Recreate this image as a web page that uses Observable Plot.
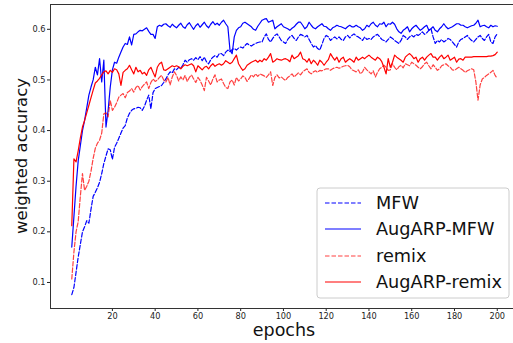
<!DOCTYPE html>
<html><head><meta charset="utf-8">
<script src="https://cdn.jsdelivr.net/npm/d3@7"></script>
<script src="https://cdn.jsdelivr.net/npm/@observablehq/plot@0.6"></script>
<style>body{margin:0;background:#fff;} #chart svg{display:block;overflow:visible}</style>
</head><body><div id="chart"></div>
<script>
const seriesNames = ["MFW", "AugARP-MFW", "remix", "AugARP-remix"];
const xTicks = [20, 40, 60, 80, 100, 120, 140, 160, 180, 200];
const yTicks = [0.1, 0.2, 0.3, 0.4, 0.5, 0.6];

const mfw = [
.076,.09,.12,.15,.175,.20,.21,.222,.217,.245,
.27,.278,.287,.298,.315,.335,.35,.364,.362,.343,
.367,.375,.385,.395,.405,.41,.425,.434,.44,.443,
.444,.446,.445,.44,.448,.46,.47,.443,.475,.483,
.485,.487,.489,.495,.502,.51,.516,.514,.522,.52,
.525,.523,.53,.539,.535,.54,.542,.539,.544,.54,
.546,.538,.545,.536,.532,.54,.545,.548,.545,.552,
.552,.548,.555,.559,.556,.56,.562,.559,.563,.565,
.563,.568,.572,.569,.567,.57,.572,.574,.575,.575,
.585,.591,.58,.575,.582,.588,.591,.585,.578,.575,
.572,.58,.585,.588,.582,.578,.585,.59,.588,.585,
.588,.58,.572,.565,.568,.562,.559,.57,.582,.588,
.585,.578,.582,.585,.581,.585,.58,.578,.585,.588,
.583,.588,.591,.587,.585,.582,.578,.585,.58,.582,
.58,.585,.588,.59,.585,.58,.578,.575,.58,.585,
.582,.578,.575,.572,.578,.588,.585,.58,.585,.588,
.585,.59,.588,.591,.595,.59,.593,.598,.601,.585,
.572,.578,.575,.58,.575,.578,.582,.58,.575,.57,
.565,.575,.58,.582,.585,.588,.582,.578,.575,.58,
.585,.588,.582,.578,.585,.59,.575,.572,.585,.591];

const augMfw = [
.170,.23,.29,.34,.37,.40,.42,.445,.47,.486,
.50,.525,.51,.542,.496,.539,.407,.44,.486,.52,
.535,.533,.545,.555,.565,.572,.57,.585,.569,.59,
.591,.595,.598,.597,.60,.603,.596,.59,.59,.582,
.605,.608,.606,.61,.611,.607,.604,.61,.606,.603,
.608,.612,.605,.602,.609,.613,.606,.60,.607,.611,
.604,.609,.614,.607,.603,.61,.615,.609,.612,.608,
.614,.618,.611,.605,.559,.552,.585,.598,.603,.605,
.612,.614,.611,.608,.605,.60,.598,.606,.612,.618,
.62,.621,.614,.616,.618,.601,.605,.608,.611,.605,
.603,.601,.598,.602,.605,.61,.614,.614,.608,.601,
.605,.614,.608,.603,.601,.605,.608,.611,.606,.605,
.601,.598,.603,.605,.608,.606,.605,.603,.601,.605,
.608,.605,.605,.608,.605,.603,.598,.601,.608,.605,
.611,.614,.608,.605,.611,.61,.614,.605,.611,.61,
.614,.61,.601,.595,.592,.598,.601,.605,.595,.601,
.605,.608,.603,.598,.601,.605,.608,.598,.601,.605,
.598,.595,.601,.605,.611,.605,.601,.603,.605,.608,
.611,.611,.608,.608,.605,.603,.605,.607,.608,.612,
.618,.605,.607,.608,.605,.603,.608,.605,.607,.606];

const remix = [
.107,.16,.20,.22,.27,.315,.282,.29,.30,.32,
.345,.365,.375,.381,.395,.433,.435,.427,.46,.44,
.446,.455,.466,.47,.473,.465,.475,.478,.483,.476,
.485,.489,.48,.487,.492,.496,.483,.495,.502,.497,
.50,.505,.509,.50,.496,.505,.49,.506,.516,.509,
.498,.506,.50,.509,.497,.505,.51,.502,.495,.505,
.499,.49,.479,.505,.498,.49,.502,.51,.496,.50,
.502,.493,.485,.483,.496,.50,.49,.505,.498,.502,
.508,.505,.497,.503,.51,.506,.512,.507,.512,.51,
.508,.505,.51,.516,.489,.505,.51,.504,.506,.502,
.499,.505,.508,.512,.506,.51,.514,.51,.516,.519,
.522,.515,.512,.516,.518,.515,.519,.518,.52,.522,
.522,.519,.522,.524,.525,.523,.525,.527,.528,.529,
.526,.52,.518,.516,.52,.512,.516,.525,.52,.516,
.512,.518,.506,.515,.522,.525,.529,.525,.519,.52,
.532,.525,.52,.526,.529,.524,.532,.53,.528,.535,
.532,.529,.525,.522,.526,.532,.535,.528,.522,.53,
.525,.519,.522,.528,.53,.532,.528,.525,.52,.519,
.522,.525,.522,.519,.515,.518,.52,.522,.52,.496,
.46,.49,.502,.505,.509,.512,.515,.519,.509,.503];

const augRemix = [
.212,.344,.338,.36,.385,.407,.42,.435,.45,.465,
.48,.494,.498,.503,.51,.516,.518,.512,.519,.515,
.522,.52,.512,.489,.515,.519,.522,.529,.52,.512,
.525,.516,.519,.512,.515,.509,.52,.525,.515,.506,
.525,.532,.535,.52,.519,.522,.525,.528,.526,.528,
.526,.522,.527,.53,.528,.53,.532,.528,.516,.528,
.524,.52,.525,.527,.522,.528,.532,.527,.53,.532,
.529,.532,.538,.535,.532,.535,.542,.549,.532,.525,
.519,.522,.529,.532,.535,.537,.539,.535,.539,.536,
.542,.539,.545,.552,.535,.538,.542,.54,.539,.541,
.542,.54,.536,.549,.542,.545,.548,.555,.542,.54,
.535,.542,.532,.539,.535,.529,.539,.535,.529,.535,
.54,.552,.545,.539,.545,.535,.542,.545,.535,.539,
.542,.539,.535,.545,.539,.542,.545,.542,.546,.549,
.545,.542,.539,.545,.542,.536,.525,.512,.542,.525,
.535,.549,.545,.542,.539,.535,.545,.549,.552,.548,
.542,.545,.535,.542,.545,.539,.545,.549,.552,.545,
.545,.539,.545,.549,.542,.545,.549,.539,.542,.545,
.535,.541,.542,.539,.545,.545,.545,.545,.546,.546,
.546,.546,.546,.546,.546,.547,.547,.548,.55,.555];

const toRows = (vals) => vals.map((v, i) => ({epoch: i + 1, value: v}));
const styles = [
  {name: seriesNames[0], data: toRows(mfw), stroke: "#0000ff", dash: "4.5,2", opacity: 1},
  {name: seriesNames[1], data: toRows(augMfw), stroke: "#0000ff", dash: null, opacity: 1},
  {name: seriesNames[2], data: toRows(remix), stroke: "#ff0000", dash: "4.5,2", opacity: 0.75},
  {name: seriesNames[3], data: toRows(augRemix), stroke: "#ff0000", dash: null, opacity: 1}
];

const plot = Plot.plot({
  width: 513, height: 343,
  marginLeft: 50, marginRight: 0, marginTop: 4, marginBottom: 35,
  style: {fontFamily: "DejaVu Sans", fontSize: "8.2px", color: "#222", background: "#fff"},
  x: {domain: [-8.95, 207.6], ticks: xTicks, tickSize: 3, tickPadding: 2, label: null},
  y: {domain: [0.0486, 0.649], ticks: yTicks, tickSize: 3, tickPadding: 2, label: null, tickFormat: d3.format(".1f")},
  marks: [
    ...styles.map(s => Plot.line(s.data, {x: "epoch", y: "value", stroke: s.stroke, strokeWidth: 1.2,
      strokeDasharray: s.dash, strokeOpacity: s.opacity})),
    Plot.frame({stroke: "#333", strokeWidth: 1})
  ]
});
document.getElementById("chart").appendChild(plot);

const svg = d3.select(plot);
const yr = plot.scale("y").range;
// axis titles
svg.append("text").attr("x", (50 + 518) / 2).attr("y", 336)
  .attr("text-anchor", "middle").attr("font-family", "DejaVu Sans").attr("font-size", 17.5)
  .attr("fill", "#111").text("epochs");
svg.append("text").attr("transform", `translate(27,${(yr[0] + yr[1]) / 2}) rotate(-90)`)
  .attr("text-anchor", "middle").attr("font-family", "DejaVu Sans").attr("font-size", 16.5)
  .attr("fill", "#111").text("weighted accuracy");

// legend
const lg = svg.append("g").attr("text-anchor", "start");
lg.append("rect").attr("x", 317).attr("y", 188).attr("width", 192).attr("height", 110).attr("rx", 3)
  .attr("fill", "#fff").attr("fill-opacity", 0.85).attr("stroke", "#ccc");
const rowsY = [203, 229, 256, 282];
styles.forEach((s, i) => {
  lg.append("line").attr("x1", 325).attr("x2", 361).attr("y1", rowsY[i]).attr("y2", rowsY[i])
    .attr("stroke", s.stroke).attr("stroke-width", 1.2).attr("stroke-opacity", s.opacity)
    .attr("stroke-dasharray", s.dash);
  lg.append("text").attr("x", 376).attr("y", rowsY[i]).attr("dy", "0.36em")
    .attr("text-anchor", "start")
    .attr("font-family", "DejaVu Sans").attr("font-size", 17.7).attr("fill", "#111").text(s.name);
});
</script>
</body></html>
